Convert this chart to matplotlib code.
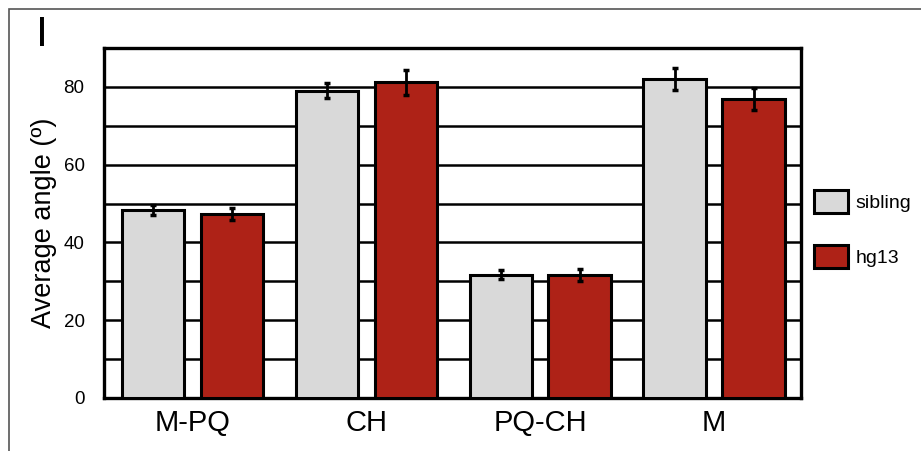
#!/usr/bin/env python3

import numpy as np
import matplotlib
matplotlib.use("Agg")
import matplotlib.pyplot as plt
from matplotlib.patches import Rectangle

plt.rcParams['font.family'] = ['Liberation Sans', 'DejaVu Sans']

categories = ["M-PQ", "CH", "PQ-CH", "M"]
sibling = [48.3, 79.0, 31.7, 82.1]
sibling_err = [1.3, 1.9, 1.1, 2.8]
hg13 = [47.4, 81.2, 31.7, 76.9]
hg13_err = [1.5, 3.2, 1.5, 2.9]
series_names = ["sibling", "hg13"]
yticks = [0, 20, 40, 60, 80]

grey = "#d9d9d9"
red = "#ae2217"

fig = plt.figure(figsize=(9.21, 4.51), dpi=100)
ax = fig.add_axes([104/921, 1 - 398/451, (801 - 104)/921, (398 - 48)/451])

x = np.arange(len(categories))
w = 0.36
off = 0.227

b1 = ax.bar(x - off, sibling, w, color=grey, edgecolor="black", linewidth=2.2,
            label=series_names[0], zorder=3)
b2 = ax.bar(x + off, hg13, w, color=red, edgecolor="black", linewidth=2.2,
            label=series_names[1], zorder=3)
ax.errorbar(x - off, sibling, yerr=sibling_err, fmt="none", ecolor="black",
            elinewidth=2, capsize=2, capthick=2.5, zorder=4)
ax.errorbar(x + off, hg13, yerr=hg13_err, fmt="none", ecolor="black",
            elinewidth=2, capsize=2, capthick=2.5, zorder=4)

ax.set_xlim(-0.51, 3.5)
ax.set_ylim(0, 90)
ax.set_yticks(yticks)
ax.set_yticks(np.arange(10, 90, 20), minor=True)
ax.grid(axis="y", which="both", color="black", linewidth=1.8, zorder=1)
ax.set_axisbelow(True)
for s in ax.spines.values():
    s.set_linewidth(2.4)

ax.set_xticks(x)
ax.set_xticklabels(categories, fontsize=21)
ax.tick_params(axis="x", length=0, pad=8)
ax.tick_params(axis="y", which="both", length=0, pad=14, labelsize=13.5)
ax.set_ylabel("Average angle (º)", fontsize=19.5, labelpad=5)

fig.legend(handles=[b1, b2], loc="center left", bbox_to_anchor=(814/921, 1 - 229/451),
           frameon=False, fontsize=14, handlelength=1.75, handleheight=1.45,
           labelspacing=1.6, handletextpad=0.4, borderpad=0, borderaxespad=0)

# panel letter and outer frame
fig.text(36/921, 1 - 35/451, "I", fontsize=31, va="center", ha="left")
fig.patches.append(Rectangle((9/921, -0.1), 1.2, 1 - 9/451 + 0.1,
                             transform=fig.transFigure, fill=False,
                             edgecolor="#555555", linewidth=1.2))

fig.savefig("out.png", dpi=100)
